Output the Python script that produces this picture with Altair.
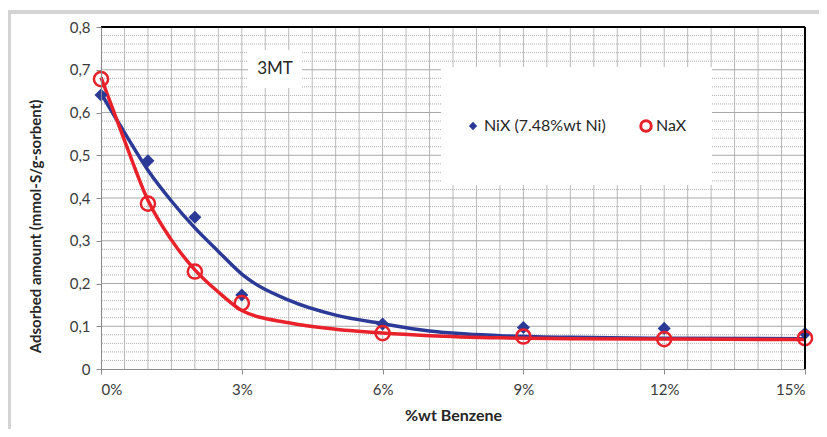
import altair as alt
import pandas as pd
import numpy as np

# ---- data ----
benzene = [0, 1, 2, 3, 6, 9, 12, 15]
nix_vals = [0.641, 0.487, 0.355, 0.173, 0.105, 0.097, 0.095, 0.083]
nax_vals = [0.678, 0.387, 0.228, 0.154, 0.084, 0.076, 0.070, 0.072]

curve_x = [0, 0.5, 1, 1.5, 2, 2.5, 3, 4, 5, 6, 7, 8.5, 10, 12, 15]
nix_curve = [0.645, 0.553, 0.465, 0.393, 0.330, 0.275, 0.222, 0.161, 0.126, 0.106, 0.089, 0.078, 0.074, 0.072, 0.071]
nax_curve = [0.682, 0.535, 0.395, 0.302, 0.232, 0.180, 0.137, 0.108, 0.093, 0.084, 0.078, 0.073, 0.071, 0.070, 0.069]

x_ticks = [0, 3, 6, 9, 12, 15]
y_ticks = [0, 0.1, 0.2, 0.3, 0.4, 0.5, 0.6, 0.7, 0.8]
x_grid = [i * 0.5 for i in range(1, 30)]
y_minor = [round(i * 0.02, 2) for i in range(1, 40) if i % 5 != 0]
y_major = [0.1, 0.2, 0.3, 0.4, 0.5, 0.6, 0.7]

series_labels = ["NiX (7.48%wt Ni)", "NaX"]
panel_label = "3MT"

BLUE = "#2B3A96"
RED = "#E8212B"
FONT = "Lato"

W, H = 704, 342

pts = pd.DataFrame({"x": benzene, "nix": nix_vals, "nax": nax_vals})
crv = pd.DataFrame({"x": curve_x, "nix": nix_curve, "nax": nax_curve})

xs = alt.Scale(domain=[0, 15], nice=False)
ys = alt.Scale(domain=[0, 0.8], nice=False)

one = pd.DataFrame({"a": [0]})

# outer grey frame
frame = alt.Chart(one).mark_rect(fill="white", stroke="#d4d4d4", strokeWidth=4).encode(
    x=alt.value(-92), x2=alt.value(W + 120), y=alt.value(-15), y2=alt.value(H + 64)
)

vgrid = alt.Chart(pd.DataFrame({"x": x_grid})).mark_rule(color="#b8b8b8", strokeWidth=1).encode(
    x=alt.X("x:Q", scale=xs)
)
hminor = alt.Chart(pd.DataFrame({"y": y_minor})).mark_rule(
    color="#b0b0b0", strokeWidth=1, strokeDash=[1, 1]
).encode(y=alt.Y("y:Q", scale=ys))
hmajor = alt.Chart(pd.DataFrame({"y": y_major})).mark_rule(color="#a8a8a8", strokeWidth=1).encode(
    y=alt.Y("y:Q", scale=ys)
)

# white boxes (label + legend)
label_box = alt.Chart(one).mark_rect(fill="white").encode(
    x=alt.value(147), x2=alt.value(201), y=alt.value(23), y2=alt.value(61)
)
legend_box = alt.Chart(one).mark_rect(fill="white").encode(
    x=alt.value(340), x2=alt.value(611), y=alt.value(40), y2=alt.value(158)
)

base_axes = alt.Chart(pts).mark_point(opacity=0).encode(
    x=alt.X(
        "x:Q",
        scale=xs,
        axis=alt.Axis(
            values=x_ticks,
            labelExpr="datum.value + '%'",
            title="%wt Benzene",
            grid=False,
            zindex=1,
            domainColor="#8a8a8a",
            tickColor="#8a8a8a",
            tickSize=5,
            labelPadding=8,
            labelFontSize=15,
            labelColor="#3a3a3a",
            labelFont=FONT,
            titleFont=FONT,
            titleFontSize=16,
            titleFontWeight="bold",
            titleColor="#262626",
            titleBaseline="middle",
            titleY=46,
        ),
    ),
    y=alt.Y(
        "nix:Q",
        scale=ys,
        axis=alt.Axis(
            values=y_ticks,
            labelExpr="datum.value == 0 ? '0' : replace(format(datum.value, '.1f'), '.', ',')",
            title="Adsorbed amount  (mmol-S/g-sorbent)",
            grid=False,
            zindex=1,
            domainColor="#8a8a8a",
            tickColor="#8a8a8a",
            tickSize=5,
            labelPadding=6,
            labelFontSize=15,
            labelColor="#3a3a3a",
            labelFont=FONT,
            titleFont=FONT,
            titleFontSize=15,
            titleFontWeight="bold",
            titleColor="#262626",
            titleBaseline="middle",
            titleAlign="center",
            titleX=-66,
            titleY=199,
        ),
    ),
)

border = pd.DataFrame({"x0": [0, 15], "x1": [15, 15], "y0": [0.8, 0], "y1": [0.8, 0.8]})
border_lines = alt.Chart(border).mark_rule(color="black", strokeWidth=2).encode(
    x=alt.X("x0:Q", scale=xs), x2="x1:Q", y=alt.Y("y0:Q", scale=ys), y2="y1:Q"
)

nix_line = alt.Chart(crv).mark_line(color=BLUE, strokeWidth=3.5, interpolate="monotone").encode(
    x=alt.X("x:Q", scale=xs), y=alt.Y("nix:Q", scale=ys)
)
nax_line = alt.Chart(crv).mark_line(color=RED, strokeWidth=3.5, interpolate="monotone").encode(
    x=alt.X("x:Q", scale=xs), y=alt.Y("nax:Q", scale=ys)
)
nix_pts = alt.Chart(pts).mark_point(shape="diamond", filled=True, color=BLUE, size=170, opacity=1).encode(
    x=alt.X("x:Q", scale=xs), y=alt.Y("nix:Q", scale=ys)
)
nax_pts = alt.Chart(pts).mark_point(shape="circle", filled=False, color=RED, size=200, strokeWidth=2.5, opacity=1).encode(
    x=alt.X("x:Q", scale=xs), y=alt.Y("nax:Q", scale=ys)
)

label_txt = alt.Chart(one).mark_text(font=FONT, fontSize=17, color="#262626").encode(
    x=alt.value(174), y=alt.value(42), text=alt.value(panel_label)
)

leg_d = alt.Chart(one).mark_point(shape="diamond", filled=True, color=BLUE, size=70, opacity=1).encode(
    x=alt.value(372), y=alt.value(99)
)
leg_t1 = alt.Chart(one).mark_text(font=FONT, fontSize=16, color="#262626", align="left").encode(
    x=alt.value(383), y=alt.value(99), text=alt.value(series_labels[0])
)
leg_c = alt.Chart(one).mark_point(shape="circle", filled=False, color=RED, size=110, strokeWidth=3, opacity=1).encode(
    x=alt.value(545), y=alt.value(99)
)
leg_t2 = alt.Chart(one).mark_text(font=FONT, fontSize=16, color="#262626", align="left").encode(
    x=alt.value(555), y=alt.value(99), text=alt.value(series_labels[1])
)

chart = alt.layer(
    frame, vgrid, hminor, hmajor, label_box, legend_box, base_axes,
    nix_line, nax_line, nix_pts, nax_pts, border_lines,
    label_txt, leg_d, leg_t1, leg_c, leg_t2,
).properties(
    width=W, height=H,
    autosize=alt.AutoSizeParams(type="none"),
    padding={"left": 93, "top": 19, "right": 14, "bottom": 60},
).configure_view(stroke=None).configure(background="white")

chart.save("out.html", embed_options={"renderer": "svg", "actions": False})
